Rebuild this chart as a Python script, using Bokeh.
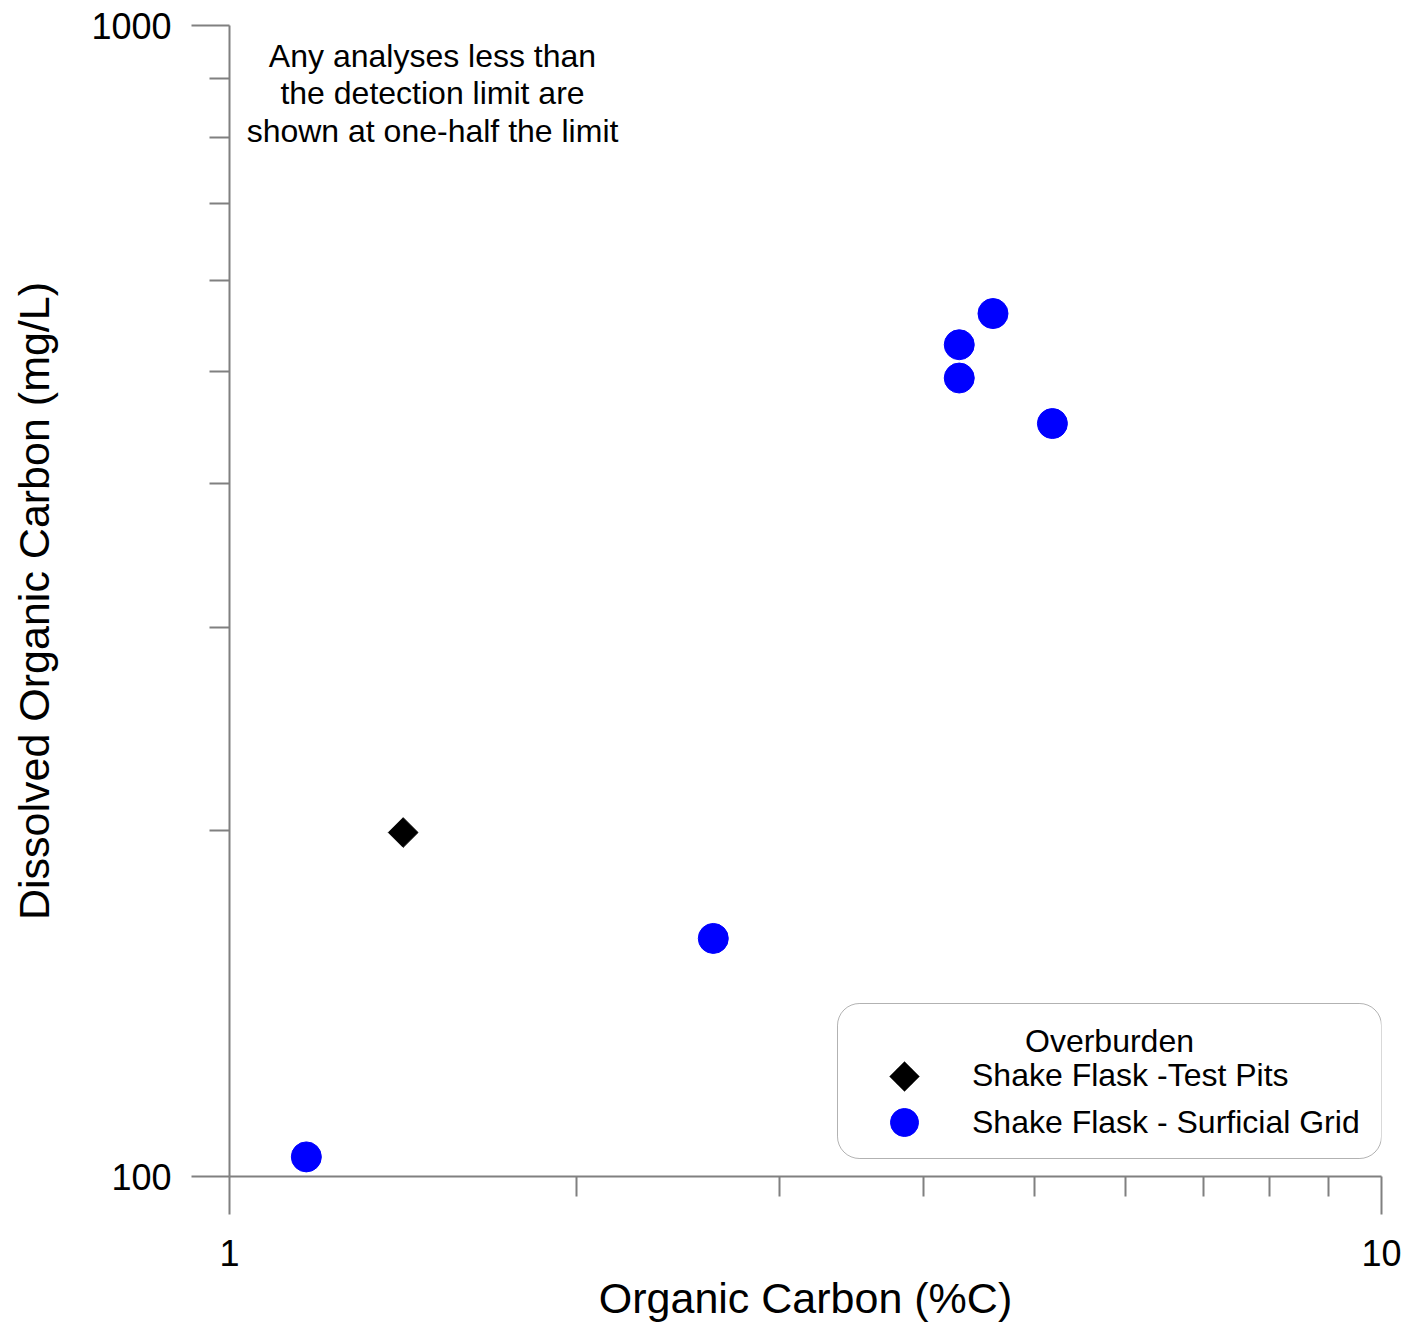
import math
from bokeh.plotting import figure
from bokeh.models import (FixedTicker, Label, BoxAnnotation, PolyAnnotation, Legend, LegendItem, Range1d)
from bokeh.embed import file_html
from bokeh.resources import INLINE

# ---- data ----
test_pits_x = [1.415]
test_pits_y = [199]
grid_x = [1.166, 2.63, 4.30, 4.30, 4.60, 5.18]
grid_y = [104, 161, 494, 528, 562, 451]

x_major = [1, 10]
x_minor = [2, 3, 4, 5, 6, 7, 8, 9]
x_labels = ["1", "10"]
y_major = [100, 1000]
y_minor = [200, 300, 400, 500, 600, 700, 800, 900]
y_labels = ["100", "1000"]

note_lines = ["Any analyses less than", "the detection limit are", "shown at one-half the limit"]
legend_title = "Overburden"
series_names = ["Shake Flask -Test Pits", "Shake Flask - Surficial Grid"]

FONT = "Liberation Sans"

p = figure(x_axis_type="log", y_axis_type="log",
           x_range=Range1d(1, 10), y_range=Range1d(100, 1000),
           frame_width=1152, frame_height=1151,
           min_border_left=229, min_border_right=26, min_border_top=25, min_border_bottom=151,
           output_backend="svg", toolbar_location=None, outline_line_color=None,
           background_fill_color="white", border_fill_color="white")
p.grid.visible = False

p.xaxis.ticker = FixedTicker(ticks=x_major, minor_ticks=x_minor)
p.yaxis.ticker = FixedTicker(ticks=y_major, minor_ticks=y_minor)
p.xaxis.major_label_overrides = {v: s for v, s in zip(x_major, x_labels)}
p.yaxis.major_label_overrides = {v: s for v, s in zip(y_major, y_labels)}
p.xaxis.axis_label = "Organic Carbon (%C)"
p.yaxis.axis_label = "Dissolved Organic Carbon (mg/L)"

for ax in (p.xaxis[0], p.yaxis[0]):
    ax.axis_line_color = "#808080"
    ax.axis_line_width = 2
    ax.major_tick_line_color = "#808080"
    ax.major_tick_line_width = 2
    ax.major_tick_in = 0
    ax.major_tick_out = 38
    ax.minor_tick_line_color = "#808080"
    ax.minor_tick_line_width = 2
    ax.minor_tick_in = 0
    ax.minor_tick_out = 20
    ax.major_label_text_font = FONT
    ax.major_label_text_font_size = "36px"
    ax.major_label_text_color = "black"
    ax.axis_label_text_font = FONT
    ax.axis_label_text_font_size = "43px"
    ax.axis_label_text_font_style = "normal"
    ax.axis_label_text_color = "black"
p.yaxis[0].major_label_standoff = 20
p.yaxis[0].axis_label_standoff = 30
p.xaxis[0].major_label_standoff = 25
p.xaxis[0].axis_label_standoff = 5

r_pits = p.scatter(test_pits_x, test_pits_y, marker="square", size=21, angle=math.pi / 4,
                   fill_color="black", line_color="black")
r_grid = p.scatter(grid_x, grid_y, marker="circle", size=30,
                   fill_color="#0000FF", line_color="#0000FF")

# legend frame (rounded)
box = BoxAnnotation(left=608, right=1152, top=173, bottom=18,
                    left_units="screen", right_units="screen", top_units="screen", bottom_units="screen",
                    fill_color="white", fill_alpha=1.0, line_color="black", line_width=1,
                    border_radius=22, level="annotation")
p.add_layout(box)

common = dict(padding=0, margin=0, spacing=0, border_line_color=None, background_fill_alpha=0,
              label_text_font=FONT, label_text_font_size="32px", label_text_color="black")
leg1 = Legend(items=[LegendItem(label=series_names[0], renderers=[r_pits])],
              location=(657, 82), glyph_width=36, glyph_height=36, label_standoff=50, **common)
leg2 = Legend(items=[LegendItem(label=series_names[1], renderers=[r_grid])],
              location=(640, 19), glyph_width=70, glyph_height=70, label_standoff=33, **common)
p.add_layout(leg1, "center")
p.add_layout(leg2, "center")

# legend key for the rotated-square marker (Bokeh legends do not rotate markers)
cx, cy, hd = 675, 100, 15
p.add_layout(PolyAnnotation(xs=[cx, cx + hd, cx, cx - hd], ys=[cy + hd, cy, cy - hd, cy],
                            xs_units="screen", ys_units="screen",
                            fill_color="black", fill_alpha=1.0, line_color="black", line_width=1,
                            level="annotation"))

p.add_layout(Label(x=880, y=136, x_units="screen", y_units="screen", text=legend_title,
                   text_align="center", text_baseline="middle", text_font=FONT,
                   text_font_size="32px", text_color="black"))

for i, line in enumerate(note_lines):
    p.add_layout(Label(x=203, y=1121 - i * 37.5, x_units="screen", y_units="screen", text=line,
                       text_align="center", text_baseline="middle", text_font=FONT,
                       text_font_size="32px", text_color="black"))

open("out.html", "w").write(file_html(p, INLINE))
